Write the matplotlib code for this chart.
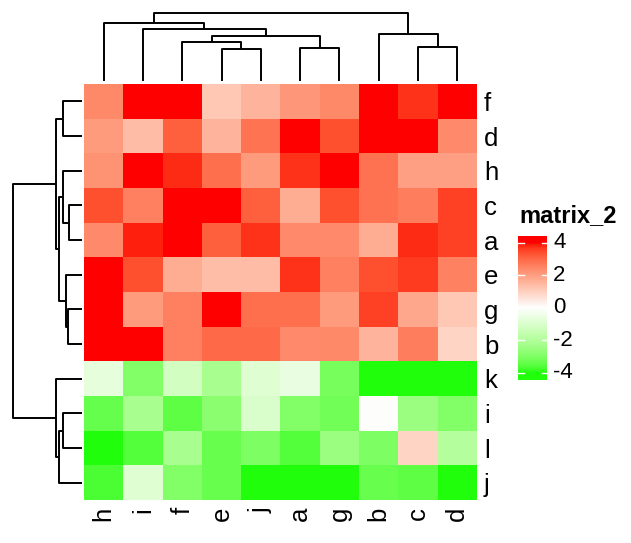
import numpy as np
import matplotlib
matplotlib.use("Agg")
import matplotlib.pyplot as plt
from matplotlib.colors import ListedColormap, Normalize

plt.rcParams['font.family'] = ['Liberation Sans', 'DejaVu Sans']

# display order after clustering
row_names = ["f", "d", "h", "c", "a", "e", "g", "b", "k", "i", "l", "j"]
col_names = ["h", "i", "f", "e", "j", "a", "g", "b", "c", "d"]

# matrix_2 values, rows x cols in display order
row_f = [2.4, 4.3, 4.2, 1.15, 1.55, 2.1, 2.4, 4.4, 3.7, 4.3]
row_d = [2.05, 1.4, 3.1, 1.55, 2.75, 4.3, 3.35, 4.5, 4.3, 2.35]
row_h = [2.2, 4.4, 3.75, 2.85, 2.05, 3.7, 4.2, 2.8, 1.95, 1.95]
row_c = [3.35, 2.55, 4.3, 4.4, 3.1, 1.7, 3.35, 2.8, 2.6, 3.55]
row_a = [2.35, 3.85, 4.1, 3.1, 3.7, 2.35, 2.35, 1.7, 3.75, 3.55]
row_e = [4.5, 3.35, 1.7, 1.35, 1.4, 3.7, 2.55, 3.35, 3.6, 2.5]
row_g = [4.3, 2.05, 2.55, 4.2, 2.85, 2.85, 2.05, 3.55, 1.8, 1.15]
row_b = [4.4, 4.3, 2.55, 2.95, 2.95, 2.35, 2.4, 1.55, 2.6, 0.9]
row_k = [-0.7, -2.95, -1.25, -2.2, -0.9, -0.6, -3.15, -4.3, -4.4, -4.2]
row_i = [-3.4, -2.2, -3.5, -2.8, -1.05, -2.95, -3.25, -0.05, -2.5, -2.95]
row_l = [-4.3, -3.6, -2.2, -3.35, -3.05, -3.6, -2.5, -3.05, 0.9, -1.95]
row_j = [-3.7, -0.9, -2.95, -3.35, -4.4, -4.2, -4.5, -3.35, -3.5, -4.3]

# dendrogram merges: (left, right, height); nK = result of merge K
col_links = [("e", "j", 32.3), ("f", "n0", 39.3), ("a", "g", 32.7),
             ("n1", "n2", 45.3), ("i", "n3", 52.3), ("h", "n4", 58.3),
             ("c", "d", 34.0), ("b", "n6", 47.3), ("n5", "n7", 68.3)]
row_links = [("f", "d", 18.4), ("c", "a", 12.4), ("h", "n1", 18.4),
             ("g", "b", 13.7), ("e", "n3", 15.7), ("n2", "n4", 22.4),
             ("n0", "n5", 25.7), ("i", "l", 18.4), ("n7", "j", 22.4),
             ("k", "n8", 25.7), ("n6", "n9", 69.0)]

legend_ticks = [4, 2, 0, -2, -4]

mat = np.array([row_f, row_d, row_h, row_c, row_a, row_e,
                row_g, row_b, row_k, row_i, row_l, row_j])

# ---- colour ramp green - white - red interpolated in LAB, like colorRamp2
M = np.array([[0.4124, 0.3576, 0.1805],
              [0.2126, 0.7152, 0.0722],
              [0.0193, 0.1192, 0.9505]])
WHITE = np.array([0.95047, 1.0, 1.08883])

def srgb2lab(c):
    c = np.asarray(c, float)
    lin = np.where(c <= 0.04045, c / 12.92, ((c + 0.055) / 1.055) ** 2.4)
    xyz = M @ lin / WHITE
    f = np.where(xyz > 0.008856, np.cbrt(xyz), 7.787 * xyz + 16 / 116)
    return np.array([116 * f[1] - 16, 500 * (f[0] - f[1]), 200 * (f[1] - f[2])])

def lab2srgb(lab):
    L, a, b = lab
    fy = (L + 16) / 116
    f = np.array([fy + a / 500, fy, fy - b / 200])
    xyz = np.where(f ** 3 > 0.008856, f ** 3, (f - 16 / 116) / 7.787) * WHITE
    lin = np.clip(np.linalg.solve(M, xyz), 0, 1)
    return np.where(lin <= 0.0031308, 12.92 * lin, 1.055 * lin ** (1 / 2.4) - 0.055)

lab_g = srgb2lab([0.13, 1, 0.05])
lab_w = srgb2lab([1, 1, 1])
lab_r = srgb2lab([1, 0, 0])
cols = []
for v in np.linspace(-4, 4, 256):
    t = abs(v) / 4
    end = lab_r if v > 0 else lab_g
    cols.append(lab2srgb(lab_w + t * (end - lab_w)))
cmap = ListedColormap(cols)
norm = Normalize(-4, 4, clip=True)

W, H = 631, 543
fig = plt.figure(figsize=(W / 100, H / 100), dpi=100)

def px_axes(x0, y0, x1, y1):
    return fig.add_axes([x0 / W, 1 - y1 / H, (x1 - x0) / W, (y1 - y0) / H])

def draw_dendro(ax, links, leaves, side):
    pos = {n: i for i, n in enumerate(leaves)}
    hgt = {n: 0.0 for n in leaves}
    for k, (a, b, h) in enumerate(links):
        xs = [pos[a], pos[a], pos[b], pos[b]]
        ys = [hgt[a], h, h, hgt[b]]
        if side == "top":
            ax.plot(xs, ys, color="black", lw=1.4, clip_on=False, solid_capstyle="butt")
        else:
            ax.plot(ys, xs, color="black", lw=1.4, clip_on=False, solid_capstyle="butt")
        pos["n%d" % k] = (pos[a] + pos[b]) / 2
        hgt["n%d" % k] = h
    return max(l[2] for l in links)

# heatmap body
ax = px_axes(84, 84, 477, 500)
ax.imshow(mat, cmap=cmap, norm=norm, aspect="auto", interpolation="nearest")
ax.set_xticks(range(len(col_names)))
ax.set_xticklabels(col_names, rotation=90, fontsize=18.5)
ax.set_yticks(range(len(row_names)))
ax.set_yticklabels(row_names, fontsize=18.5)
ax.yaxis.tick_right()
ax.tick_params(length=0, pad=5)
for s in ax.spines.values():
    s.set_visible(False)

# column dendrogram
axc = px_axes(84, 12.7, 477, 81)
top = draw_dendro(axc, col_links, col_names, "top")
axc.set_xlim(-0.5, len(col_names) - 0.5)
axc.set_ylim(0, top)
axc.axis("off")

# row dendrogram
axr = px_axes(12.7, 84, 81.7, 500)
top = draw_dendro(axr, row_links, row_names, "left")
axr.set_ylim(len(row_names) - 0.5, -0.5)
axr.set_xlim(top, 0)
axr.axis("off")

# legend
axl = px_axes(518.3, 235.7, 547.3, 380)
lim = 4.45
axl.imshow(np.linspace(lim, -lim, 300)[:, None], cmap=cmap, norm=norm,
           aspect="auto", extent=[0, 1, -lim, lim], interpolation="bilinear")
axl.set_xlim(0, 1)
axl.set_ylim(-lim, lim)
for t in legend_ticks:
    axl.plot([0, 0.18], [t, t], color="white", lw=1)
    axl.plot([0.82, 1], [t, t], color="white", lw=1)
    axl.text(1.2, t, str(t), ha="left", va="center", fontsize=16)
axl.axis("off")
fig.text(519 / W, 1 - 222.5 / H, "matrix_2", fontsize=17, fontweight="bold",
         ha="left", va="baseline")

fig.savefig("out.png", dpi=100)
